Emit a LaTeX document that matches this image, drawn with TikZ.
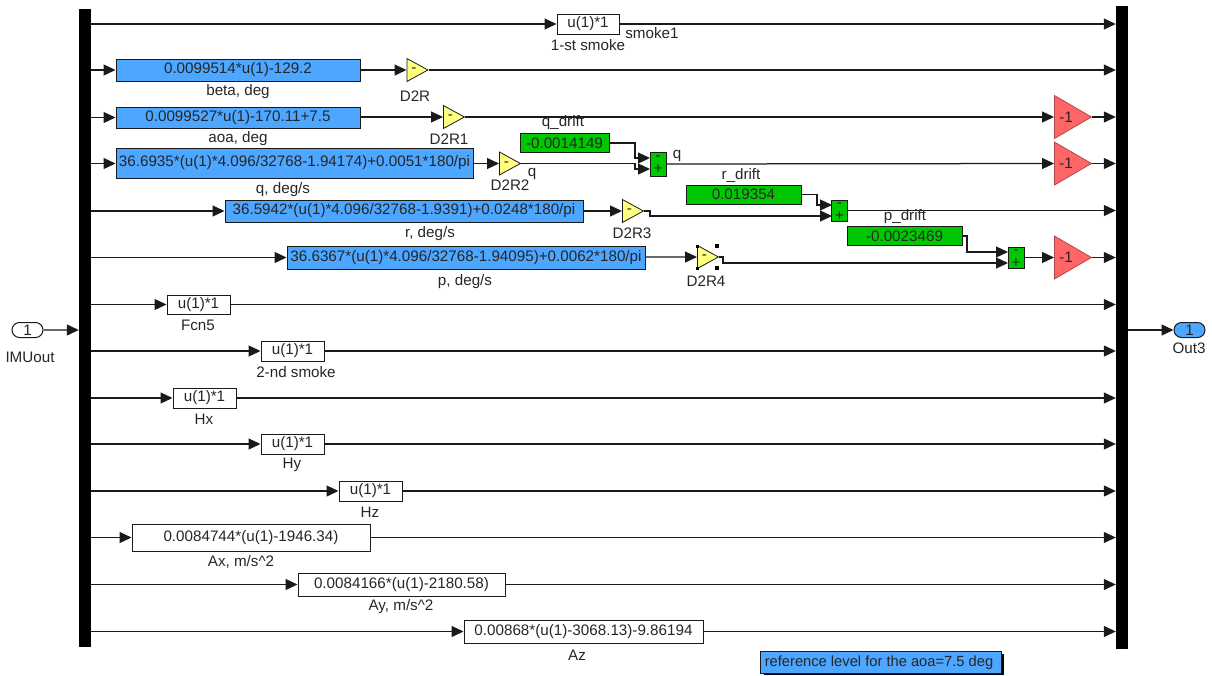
\documentclass[tikz,border=0pt]{standalone}
\usepackage{fontspec}
\setmainfont{Liberation Sans}
\usetikzlibrary{arrows.meta,shapes.geometric,shapes.misc,calc}
\definecolor{simblue}{HTML}{4DA6FF}
\definecolor{simgreen}{HTML}{00C800}
\definecolor{simyellow}{HTML}{FFFF80}
\definecolor{simred}{HTML}{FF6666}
\definecolor{simline}{HTML}{1A1A1A}
\tikzset{
  x=1pt,y=-1pt,
  every node/.style={font=\fontsize{15.2}{17}\selectfont,text=black!85},
  sig/.style={draw=simline,line width=1.25pt,-{Triangle[length=12pt,width=11pt]}},
  bus/.style={fill=black,draw=none,inner sep=0pt,minimum width=12pt},
  blk/.style={draw=simline,line width=1pt,inner sep=0pt},
  whitebox/.style={blk,fill=white},
  bluebox/.style={blk,fill=simblue},
  greenbox/.style={blk,fill=simgreen},
  sumbox/.style={blk,fill=simgreen,minimum width=16pt},
  gainY/.style={draw=simline,line width=0.8pt,fill=simyellow,isosceles triangle,isosceles triangle stretches,inner sep=0pt,minimum height=21pt,minimum width=23pt,anchor=west},
  gainR/.style={draw=simred!70!black,line width=0.8pt,fill=simred,isosceles triangle,isosceles triangle stretches,inner sep=0pt,minimum height=37pt,minimum width=43pt,anchor=west},
  port/.style={draw=simline,line width=1pt,rounded rectangle,inner sep=0pt,minimum width=31pt,minimum height=15pt},
  lab/.style={inner sep=0pt},
  handle/.style={fill=black,inner sep=0pt,minimum size=4pt}
}
\begin{document}
\begin{tikzpicture}
\useasboundingbox (0,0) rectangle (1212,675);
% buses
\node[bus,minimum height=638pt] (bl) at (85,328) {};
\node[bus,minimum height=643pt] (br) at (1122,327.5) {};
% ports
\node[port,fill=white] (in) at (27.5,330) {1};
\node[port,fill=simblue] (out) at (1189.5,330) {1};
\node[lab] (inl) at (30,357) {IMUout};
\node[lab] (outl) at (1189,348) {Out3};
\draw[sig] (in) -- (bl.west |- in);
\draw[sig] (br.east |- out) -- (out);
% row 1
\node[whitebox,minimum width=62pt,minimum height=20pt] (f1) at (588,24) {u(1)*1};
\node[lab] (f1l) at (588,45) {1-st smoke};
\node[lab] (f1s) at (652,33) {smoke1};
\draw[sig] (bl.east |- f1) -- (f1);
\draw[sig] (f1) -- (br.west |- f1);
% row 2
\node[bluebox,minimum width=244pt,minimum height=22pt] (b2) at (238,70) {0.0099514*u(1)-129.2};
\node[lab] (b2l) at (238,92) {beta, deg};
\node[gainY] (g2) at (406.5,70) {};
\node[lab] at (414,70) {-};
\node[lab] (g2l) at (415,96) {D2R};
\draw[sig] (bl.east |- b2) -- (b2);
\draw[sig] (b2) -- (g2.west);
\draw[sig] (g2.apex) -- (br.west |- g2);
% row 3
\node[bluebox,minimum width=244pt,minimum height=21pt] (b3) at (238,117.5) {0.0099527*u(1)-170.11+7.5};
\node[lab] (b3l) at (238,139) {aoa, deg};
\node[gainY] (g3) at (443,117) {};
\node[lab] at (450.5,117) {-};
\node[lab] (g3l) at (449,139) {D2R1};
\node[gainR] (r3) at (1054,117) {};
\node[lab] at (1066,117) {-1};
\draw[sig] (bl.east |- b3) -- (b3);
\draw[sig] (b3.east |- g3) -- (g3.west);
\draw[sig] (g3.apex) -- (r3.west);
\draw[sig] (r3.apex) -- (br.west |- r3);
% row 4
\node[bluebox,minimum width=357pt,minimum height=30pt] (b4) at (294.5,163) {36.6935*(u(1)*4.096/32768-1.94174)+0.0051*180/pi};
\node[lab] (b4l) at (283,190) {q, deg/s};
\node[gainY] (g4) at (499,163.5) {};
\node[lab] at (506.5,164) {-};
\node[lab] (g4l) at (510,185) {D2R2};
\node[lab] (g4q) at (532,174) {q};
\node[greenbox,minimum width=89pt,minimum height=18.5pt] (d4) at (564.5,143) {-0.0014149};
\node[lab] (d4l) at (563,122.5) {q\_drift};
\node[sumbox,minimum height=24pt] (s4) at (658,164) {};
\node[lab] at (658,158) {-};
\node[lab] at (658,169.5) {+};
\node[lab] (s4l) at (677,156) {q};
\node[gainR] (r4) at (1054,163.5) {};
\node[lab] at (1066,163.5) {-1};
\coordinate (s4a) at (650,158);
\coordinate (s4b) at (650,169);
\draw[sig] (bl.east |- g4) -- (b4.west |- g4);
\draw[sig] (b4.east |- g4) -- (g4.west);
\draw[sig] (d4.east) -- (635,143) |- (s4a);
\draw[sig] (g4.apex) -- (635,163.5) |- (s4b);
\draw[sig] (s4.east) -- (r4.west);
\draw[sig] (r4.apex) -- (br.west |- r4);
% row 5
\node[bluebox,minimum width=358pt,minimum height=22pt] (b5) at (404,211) {36.5942*(u(1)*4.096/32768-1.9391)+0.0248*180/pi};
\node[lab] (b5l) at (430,234) {r, deg/s};
\node[gainY] (g5) at (622,211) {};
\node[lab] at (629.5,211) {-};
\node[lab] (g5l) at (632,233) {D2R3};
\node[greenbox,minimum width=115pt,minimum height=19pt] (d5) at (743.5,194.5) {0.019354};
\node[lab] (d5l) at (741,175.5) {r\_drift};
\node[sumbox,minimum height=21pt] (s5) at (839.5,210.5) {};
\node[lab] at (839.5,205) {-};
\node[lab] at (839.5,216) {+};
\coordinate (s5a) at (832,205);
\coordinate (s5b) at (832,216);
\draw[sig] (bl.east |- b5) -- (b5);
\draw[sig] (b5) -- (g5.west);
\draw[sig] (d5.east) -- (817,194.5) |- (s5a);
\draw[sig] (g5.apex) -- (650,211) |- (s5b);
\draw[sig] (s5.east) -- (br.west |- s5);
% row 6
\node[bluebox,minimum width=358pt,minimum height=23pt] (b6) at (466,257.5) {36.6367*(u(1)*4.096/32768-1.94095)+0.0062*180/pi};
\node[lab] (b6l) at (465,282) {p, deg/s};
\node[gainY] (g6) at (697,257) {};
\node[lab] at (704.5,257) {-};
\node[lab] (g6l) at (706,281) {D2R4};
\node[handle] (h1) at (717,246) {};
\node[handle] (h2) at (717,268) {};
\node[handle,minimum size=3pt] (h3) at (697,246) {};
\node[handle,minimum size=3pt] (h4) at (697,268) {};
\node[greenbox,minimum width=115pt,minimum height=18.5pt] (d6) at (904.5,236) {-0.0023469};
\node[lab] (d6l) at (905,217) {p\_drift};
\node[sumbox,minimum height=21pt] (s6) at (1016,257.5) {};
\node[lab] at (1016,252) {-};
\node[lab] at (1016,263) {+};
\node[gainR] (r6) at (1054,257.5) {};
\node[lab] at (1066,257.5) {-1};
\coordinate (s6a) at (1008,252);
\coordinate (s6b) at (1008,263);
\draw[sig] (bl.east |- b6) -- (b6);
\draw[sig] (b6) -- (g6.west);
\draw[sig] (d6.east) -- (967,236) |- (s6a);
\draw[sig] (g6.apex) -- (723,257) |- (s6b);
\draw[sig] (s6.east) -- (r6.west);
\draw[sig] (r6.apex) -- (br.west |- r6);
% plain rows
\node[whitebox,minimum width=63pt,minimum height=19pt] (f7) at (198.5,304.5) {u(1)*1};
\node[lab] (f7l) at (198,325) {Fcn5};
\node[whitebox,minimum width=63pt,minimum height=20pt] (f8) at (292.5,351) {u(1)*1};
\node[lab] (f8l) at (296,372) {2-nd smoke};
\node[whitebox,minimum width=63pt,minimum height=20pt] (f9) at (204.5,398) {u(1)*1};
\node[lab] (f9l) at (204,419) {Hx};
\node[whitebox,minimum width=63pt,minimum height=20pt] (f10) at (292.5,444) {u(1)*1};
\node[lab] (f10l) at (292,465) {Hy};
\node[whitebox,minimum width=63pt,minimum height=20pt] (f11) at (370.5,491) {u(1)*1};
\node[lab] (f11l) at (370,512) {Hz};
\node[whitebox,minimum width=238pt,minimum height=27pt] (f12) at (251,537.5) {0.0084744*(u(1)-1946.34)};
\node[lab] (f12l) at (241,562) {Ax, m/s\^{}2};
\node[whitebox,minimum width=207pt,minimum height=23pt] (f13) at (401.5,584.5) {0.0084166*(u(1)-2180.58)};
\node[lab] (f13l) at (401,607) {Ay, m/s\^{}2};
\node[whitebox,minimum width=239pt,minimum height=23pt] (f14) at (583.5,631.5) {0.00868*(u(1)-3068.13)-9.86194};
\node[lab] (f14l) at (577,655) {Az};
\foreach \n in {f7,f8,f9,f10,f11,f12,f13,f14}{
  \draw[sig] (bl.east |- \n) -- (\n);
  \draw[sig] (\n) -- (br.west |- \n);
}
% note
\fill[black] (764,654) rectangle (1004,675);
\node[blk,fill=simblue,minimum width=241pt,minimum height=22pt,font=\fontsize{14.7}{17}\selectfont,yshift=-0.5pt] (note) at (881,662) {\hspace*{-4pt}reference level for the aoa=7.5 deg};
\end{tikzpicture}
\end{document}
